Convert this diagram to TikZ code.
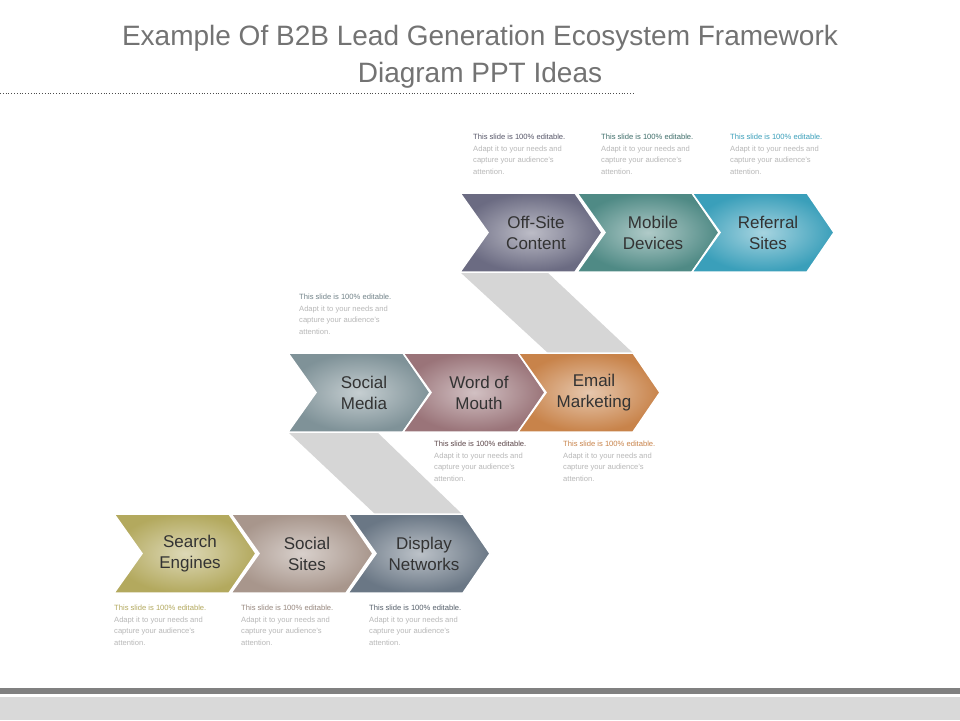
\documentclass[tikz,border=0pt]{standalone}
\usepackage{fontspec}
\setmainfont{Liberation Sans}
\begin{document}
\begin{tikzpicture}[x=1pt,y=-1pt,
  lbl/.style={text=black!80,font=\fontsize{17}{21}\selectfont,align=center},
  note/.style={anchor=north west,align=left,text=black!28,font=\fontsize{7.6}{11.5}\selectfont,inner sep=0pt},
  band/.style={fill=black!16}]
\definecolor{cOff}{HTML}{6B6B82}\definecolor{cMob}{HTML}{4F8A85}\definecolor{cRef}{HTML}{3A9FBA}
\definecolor{cSM}{HTML}{7F9298}\definecolor{cWM}{HTML}{9A7479}\definecolor{cEM}{HTML}{C8834A}
\definecolor{cSE}{HTML}{B3A95E}\definecolor{cSS}{HTML}{A8968C}\definecolor{cDN}{HTML}{6A7785}
\fill[white] (0,0) rectangle (960,720);
\useasboundingbox (0,0) rectangle (960,720);
% title
\node[text=black!55,font=\fontsize{28}{37}\selectfont,align=center] (title) at (480,57) {Example Of B2B Lead Generation Ecosystem Framework\\Diagram PPT Ideas};
\draw[black!70,dotted,line width=0.8pt] (0,93) -- (635,93);
% bottom bars
\fill[black!50] (0,688) rectangle (960,694);
\fill[black!15] (0,697) rectangle (960,720);
% bands
\fill[band] (460,272) -- (547,272) -- (633,353) -- (548,353) -- cycle;
\fill[band] (288,432) -- (377,432) -- (462,514) -- (375,514) -- cycle;
\newcommand\chev[5]{%
  \shade[inner color=#3!45!white,outer color=#3,draw=white,line width=1.5pt]
    (#1,#2) -- ++(115,0) -- ++(27,39.5) -- ++(-27,39.5) -- ++(-115,0) -- ++(28,-39.5) -- cycle;
  \node[lbl] (#5) at ({#1+76},{#2+39.5}) {#4};}
\chev{114}{514}{cSE}{Search\\Engines}{se}
\chev{231}{514}{cSS}{Social\\Sites}{ss}
\chev{348}{514}{cDN}{Display\\Networks}{dn}
\chev{288}{353}{cSM}{Social\\Media}{sm}
\chev{403}{353}{cWM}{Word of\\Mouth}{wm}
\chev{518}{353}{cEM}{Email\\Marketing}{em}
\chev{460}{193}{cOff}{Off-Site\\Content}{os}
\chev{577}{193}{cMob}{Mobile\\Devices}{md}
\chev{692}{193}{cRef}{Referral\\Sites}{rs}
\newcommand\note[4]{\node[note] (#4) at (#1,#2) {\textcolor{#3}{This slide is 100\% editable.}\\Adapt it to your needs and\\capture your audience's\\attention.};}
\note{473}{134}{cOff!80!black}{n1}
\note{601}{134}{cMob!80!black}{n2}
\note{730}{134}{cRef}{n3}
\note{299}{294}{cSM!90!black}{n4}
\note{434}{441}{cWM!60!black}{n5}
\note{563}{441}{cEM}{n6}
\note{114}{605}{cSE}{n7}
\note{241}{605}{cSS!90!black}{n8}
\note{369}{605}{cDN!80!black}{n9}
\end{tikzpicture}
\end{document}
